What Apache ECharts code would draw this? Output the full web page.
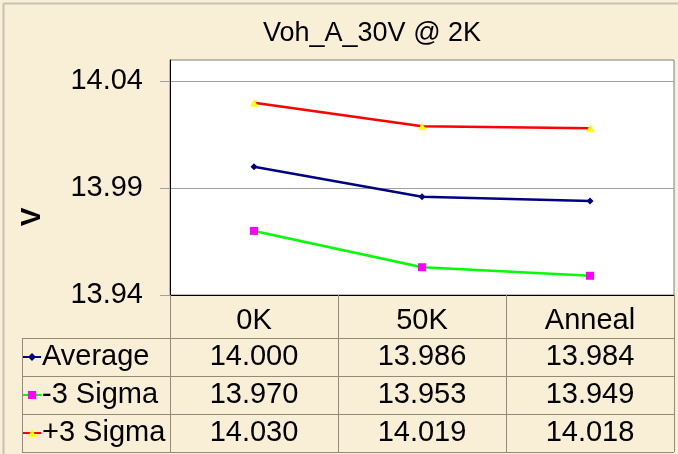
<!DOCTYPE html>
<html><head><meta charset="utf-8">
<script src="https://cdn.jsdelivr.net/npm/echarts@6/dist/echarts.min.js"></script>
<style>html,body{margin:0;padding:0;background:#f9eed6;overflow:hidden}#c{width:678px;height:454px}</style>
</head><body><div id="c"></div>
<script>
// ---- data ----
const categories = ['0K', '50K', 'Anneal'];
const seriesNames = ['Average', '-3 Sigma', '+3 Sigma'];
const average = [14.000, 13.986, 13.984];
const minus3Sigma = [13.970, 13.953, 13.949];
const plus3Sigma = [14.030, 14.019, 14.018];
const yTickValues = [13.94, 13.99, 14.04];
const yMin = 13.94, yMax = 14.05;
const titleText = 'Voh_A_30V @ 2K';
const yAxisName = 'V';

// ---- styles ----
const FONT = '"Liberation Sans", Arial, sans-serif';
const FS = 29;
const tableLine = '#958a78';
const rowValues = [average, minus3Sigma, plus3Sigma];
const seriesStyles = [
  { line: '#000080', sym: 'diamond', symColor: '#000080', size: 7 },
  { line: '#00ff00', sym: 'rect', symColor: '#ff00ff', size: 8 },
  { line: '#ff0000', sym: 'triangle', symColor: '#ffff00', size: 8 }
];
const rowCenters = [357, 395, 433];
const axisY = 295;

const chart = echarts.init(document.getElementById('c'), null, { renderer: 'canvas' });

const xAxes = [{
  type: 'category', data: categories, gridIndex: 0, position: 'bottom', boundaryGap: true,
  axisLine: { show: true, lineStyle: { color: '#000', width: 1 } },
  axisTick: { show: true, interval: 0, length: 157, lineStyle: { color: tableLine, width: 1 } },
  axisLabel: { interval: 0, margin: 11, fontSize: FS, fontFamily: FONT, color: '#000', lineHeight: 30 },
  splitLine: { show: false }
}];
rowValues.forEach((vals, r) => {
  xAxes.push({
    type: 'category', data: categories, gridIndex: 0, position: 'bottom',
    offset: rowCenters[r] - axisY - 15 - 10,
    axisLine: { show: false }, axisTick: { show: false }, splitLine: { show: false },
    axisLabel: { interval: 0, margin: 10, fontSize: FS, fontFamily: FONT, color: '#000', lineHeight: 30,
      formatter: (v, i) => vals[i].toFixed(3) }
  });
});

const legends = seriesNames.map((n, r) => ({
  data: [n], orient: 'horizontal', left: 22, top: rowCenters[r] - 16, padding: 0,
  itemWidth: 18, itemHeight: 10, itemGap: 0, selectedMode: false,
  textStyle: { fontSize: FS, fontFamily: FONT, color: '#000', lineHeight: 32, padding: [0, 0, 0, -4] }
}));

const option = {
  animation: false,
  backgroundColor: '#f9eed6',
  title: {
    text: titleText, top: 20, padding: 0, left: 263,
    textStyle: { fontSize: 27, fontFamily: FONT, fontWeight: 'normal', color: '#000' }
  },
  legend: legends,
  grid: {
    left: 170, right: 4, top: 60, height: 235, show: true,
    backgroundColor: '#ffffff', borderColor: '#808080', borderWidth: 1,
    containLabel: false, outerBoundsMode: 'none'
  },
  xAxis: xAxes,
  yAxis: {
    type: 'value', min: yMin, max: yMax,
    axisLine: { show: true, lineStyle: { color: '#000', width: 1 } },
    axisTick: { show: true, customValues: yTickValues, length: 10, lineStyle: { color: '#a0a0a0' } },
    axisLabel: { customValues: yTickValues, margin: 27, fontSize: FS, fontFamily: FONT, color: '#000',
      formatter: v => v.toFixed(2) },
    splitLine: { show: true, lineStyle: { color: '#a0a0a0', width: 1 } }
  },
  series: seriesNames.map((n, i) => ({
    name: n, type: 'line', data: rowValues[i], xAxisIndex: 0, yAxisIndex: 0,
    symbol: seriesStyles[i].sym, symbolSize: seriesStyles[i].size, showSymbol: true,
    lineStyle: { color: seriesStyles[i].line, width: 2.5 },
    itemStyle: { color: seriesStyles[i].symColor, borderWidth: 0 },
    emphasis: { disabled: true }
  })),
  graphic: [
    { type: 'line', shape: { x1: 3.5, y1: 3.5, x2: 678, y2: 3.5 }, style: { stroke: '#c8c0b2', lineWidth: 2 } },
    { type: 'line', shape: { x1: 3.5, y1: 3.5, x2: 3.5, y2: 454 }, style: { stroke: '#c8c0b2', lineWidth: 2 } },
    { type: 'line', shape: { x1: 22, y1: 338.5, x2: 674, y2: 338.5 }, style: { stroke: tableLine, lineWidth: 1 } },
    { type: 'line', shape: { x1: 22, y1: 376.5, x2: 674, y2: 376.5 }, style: { stroke: tableLine, lineWidth: 1 } },
    { type: 'line', shape: { x1: 22, y1: 414.5, x2: 674, y2: 414.5 }, style: { stroke: tableLine, lineWidth: 1 } },
    { type: 'line', shape: { x1: 22, y1: 452.5, x2: 674, y2: 452.5 }, style: { stroke: tableLine, lineWidth: 1 } },
    { type: 'line', shape: { x1: 22.5, y1: 338, x2: 22.5, y2: 453 }, style: { stroke: tableLine, lineWidth: 1 } },
    { type: 'text', x: 32, y: 217, rotation: Math.PI / 2,
      style: { text: yAxisName, fontSize: 28, fontWeight: 'bold', fontFamily: FONT, fill: '#000', align: 'center', verticalAlign: 'middle' } }
  ]
};
chart.setOption(option);
</script></body></html>
